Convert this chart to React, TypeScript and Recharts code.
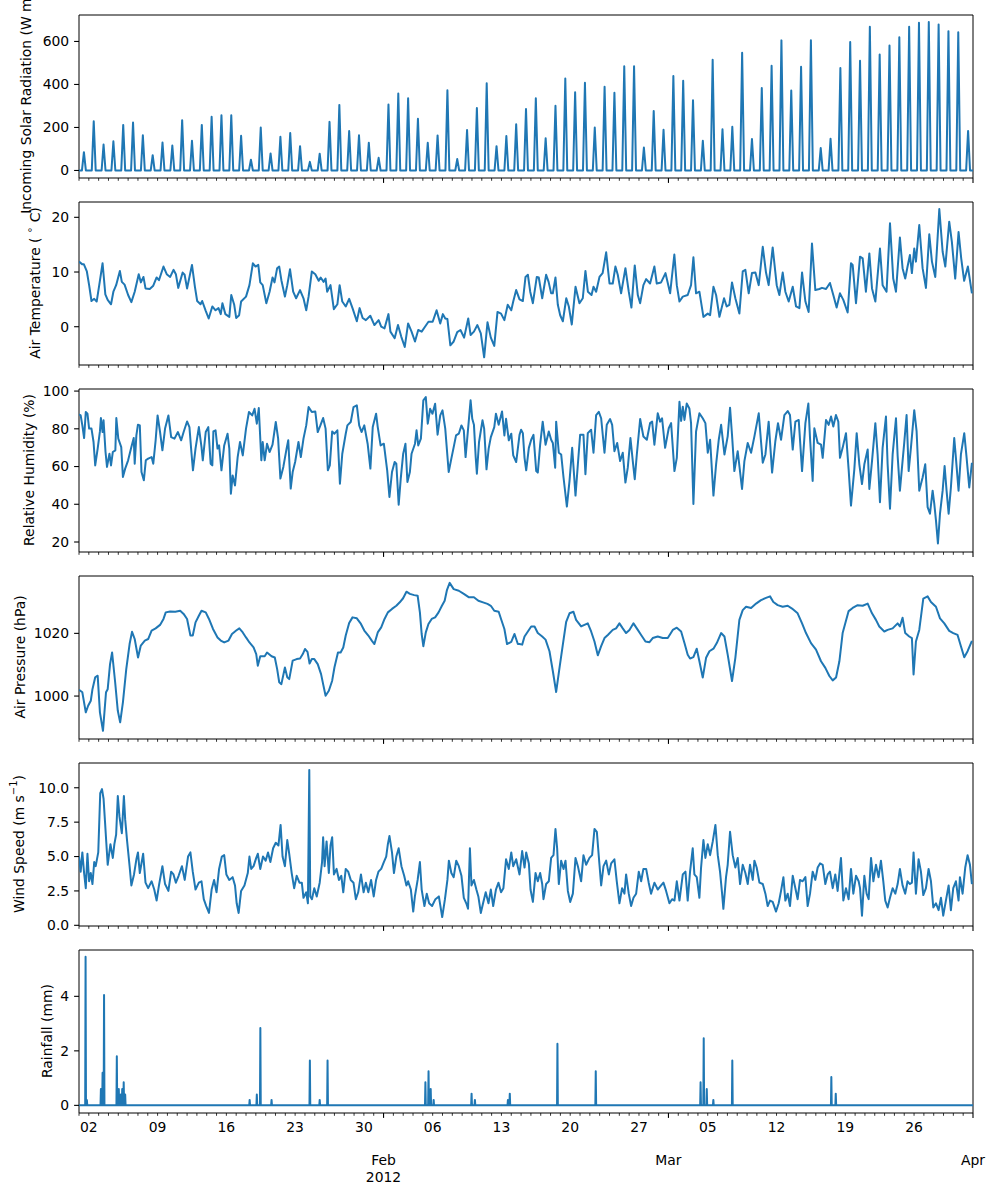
import React from 'react';
import { LineChart, Line, XAxis, YAxis, ReferenceArea } from 'recharts';

type Pt = [number, number];

// x values are days since 2012-01-01 00:00

// daily noon peak of incoming solar radiation (W m-2), Jan 1 .. Mar 31
const SOLAR_PEAKS = [
  85, 229, 121, 136, 212, 223, 164, 71, 130, 116, 234, 138, 212, 250, 257, 257, 161, 50, 200, 79,
  157, 174, 113, 40, 78, 226, 305, 183, 164, 129, 59, 307, 358, 336, 240, 129, 163, 373, 53, 188,
  290, 406, 113, 160, 215, 286, 336, 150, 301, 428, 364, 408, 200, 389, 361, 485, 485, 107, 277, 189,
  439, 417, 327, 138, 515, 192, 203, 547, 146, 383, 487, 605, 372, 482, 606, 104, 147, 477, 597, 510,
  668, 539, 581, 620, 668, 687, 690, 679, 648, 643, 184,
];

// air temperature (deg C)
const TEMP: Pt[] = [
  [0, 11.9], [0.34, 11.4], [0.5, 11.4], [0.8, 10.1], [1.03, 7.6], [1.27, 4.7], [1.55, 5.1], [1.8, 4.6],
  [2.06, 7.6], [2.4, 11.6], [2.68, 5.9], [2.92, 4.9], [3.26, 4.1], [3.5, 6.4], [3.78, 7.6], [4.16, 10.2],
  [4.36, 8.2], [4.64, 7.7], [5, 5.8], [5.33, 4.5], [5.67, 6.4], [6.08, 9.6], [6.3, 8.1], [6.56, 9.1],
  [6.77, 7.0], [7.2, 6.9], [7.56, 7.5], [7.9, 9.0], [8.14, 8.5], [8.6, 11.0], [8.93, 9.6], [9.28, 9.1],
  [9.62, 10.4], [9.86, 9.6], [10.1, 7.1], [10.55, 9.9], [10.75, 9.5], [11, 7.0], [11.5, 11.3], [11.8, 7.3],
  [12.03, 4.7], [12.37, 4.1], [12.54, 4.7], [12.9, 2.9], [13.2, 1.5], [13.57, 3.7], [13.9, 3.0], [14.2, 3.4],
  [14.43, 2.3], [14.6, 4.3], [14.9, 2.3], [15.3, 1.8], [15.5, 5.8], [15.8, 4.0], [16, 1.6], [16.3, 2.1],
  [16.5, 4.6], [17, 5.5], [17.35, 7.6], [17.7, 11.6], [17.97, 11.0], [18.25, 11.3], [18.45, 8.1], [18.7, 7.6],
  [19.07, 4.3], [19.4, 6.4], [19.7, 9.0], [19.9, 8.1], [20.17, 10.7], [20.38, 11.0], [20.6, 8.5], [20.96, 5.5],
  [21.2, 7.6], [21.48, 10.5], [21.8, 6.4], [22.1, 5.2], [22.5, 6.7], [22.85, 5.2], [23.13, 3.0], [23.37, 5.5],
  [23.7, 10.1], [24.05, 9.6], [24.4, 8.4], [24.6, 9.0], [24.9, 8.2], [25.1, 8.8], [25.26, 6.4], [25.6, 7.6],
  [25.94, 3.2], [26.3, 4.1], [26.53, 7.6], [26.8, 4.6], [27.15, 3.7], [27.5, 5.1], [27.84, 3.4], [28.28, 1.0],
  [28.56, 3.4], [28.87, 1.6], [29.2, 1.2], [29.65, 2.0], [30.07, 0.3], [30.5, 1.2], [30.76, 0.0], [31.1, -0.3],
  [31.5, 2.3], [31.7, -0.9], [32.13, -2.1], [32.47, 0.3], [32.8, -1.8], [33.16, -3.7], [33.5, 0.6], [33.85, -0.9],
  [34.2, -2.7], [34.53, -0.6], [34.88, -0.9], [35.22, 0.0], [35.57, 0.9], [36, 0.9], [36.4, 3.0], [36.77, 0.6],
  [37.04, 2.3], [37.28, 1.5], [37.5, 1.4], [37.8, -3.4], [38.14, -2.7], [38.5, -1.0], [38.83, -0.6], [39.2, -2.0],
  [39.62, 1.5], [39.86, -1.5], [40.2, -0.9], [40.55, 0.3], [40.9, -1.2], [41.24, -5.6], [41.58, 0.8], [41.92, -2.0],
  [42.27, -3.5], [42.6, 2.7], [42.96, 2.4], [43.3, 1.2], [43.64, 4.0], [44, 3.0], [44.2, 4.6], [44.5, 6.7],
  [44.84, 5.0], [45.18, 4.7], [45.45, 9.1], [45.69, 9.5], [45.93, 6.4], [46.2, 4.3], [46.6, 9.1], [46.8, 9.0],
  [47.15, 5.2], [47.55, 9.5], [47.8, 8.2], [48.06, 6.1], [48.23, 6.1], [48.5, 9.0], [48.74, 4.0], [48.98, 2.1],
  [49.25, 1.0], [49.6, 5.2], [49.86, 3.7], [50.16, 0.4], [50.54, 7.3], [50.94, 4.3], [51.28, 5.2], [51.55, 10.2],
  [51.8, 6.4], [52.17, 5.8], [52.37, 7.3], [52.64, 6.4], [52.98, 9.1], [53.3, 9.8], [53.66, 13.6], [54, 7.9],
  [54.33, 7.9], [54.6, 11.0], [54.84, 9.5], [55.18, 6.1], [55.62, 10.7], [55.96, 6.4], [56.23, 3.5], [56.57, 11.2],
  [56.88, 5.8], [57.12, 4.3], [57.45, 7.6], [57.73, 8.7], [58.13, 7.9], [58.57, 11.0], [58.81, 7.9], [59.25, 8.1],
  [59.7, 9.8], [60.17, 6.1], [60.6, 13.2], [60.85, 7.6], [61.12, 4.6], [61.46, 5.5], [61.96, 5.8], [62.3, 7.6],
  [62.54, 12.7], [62.81, 6.1], [63.15, 6.4], [63.56, 1.8], [64, 2.4], [64.24, 2.1], [64.58, 7.3], [64.85, 5.8],
  [65.19, 1.8], [65.66, 5.2], [65.93, 3.7], [66.2, 4.0], [66.47, 8.1], [66.81, 5.2], [67.22, 2.4], [67.56, 10.1],
  [67.83, 10.4], [68.17, 6.1], [68.5, 9.8], [68.85, 9.9], [69.19, 7.6], [69.6, 14.6], [69.93, 9.9], [70.2, 7.6],
  [70.61, 14.5], [71.02, 7.6], [71.29, 5.8], [71.63, 9.9], [71.9, 6.4], [72.24, 4.6], [72.65, 7.3], [72.99, 3.7],
  [73.33, 3.4], [73.6, 9.9], [73.94, 4.6], [74.27, 2.7], [74.61, 15.2], [74.95, 6.7], [75.36, 6.9], [75.63, 7.1],
  [76.04, 6.9], [76.44, 8.0], [76.78, 5.8], [77.12, 3.5], [77.46, 6.1], [77.8, 4.9], [78.24, 2.6], [78.58, 11.6],
  [78.75, 11.3], [79.09, 4.3], [79.5, 12.8], [79.77, 12.5], [80.1, 6.4], [80.45, 13.4], [80.72, 7.0], [81.06, 4.6],
  [81.53, 14.3], [81.8, 7.6], [82.2, 6.4], [82.55, 18.9], [82.88, 8.8], [83.16, 6.4], [83.56, 16.3], [83.83, 10.7],
  [84.1, 8.8], [84.34, 11.0], [84.58, 13.1], [84.78, 9.8], [85.02, 14.3], [85.19, 11.9], [85.53, 18.6], [85.87, 10.7],
  [86.21, 7.1], [86.55, 16.9], [86.82, 11.9], [87.16, 9.1], [87.57, 21.5], [87.91, 13.7], [88.18, 11.0], [88.58, 19.2],
  [88.85, 15.5], [89.19, 8.8], [89.53, 17.3], [89.8, 12.5], [90.1, 8.4], [90.48, 11.0], [90.89, 6.1],
];

// relative humidity (%)
const HUMIDITY: Pt[] = [
  [0, 87.6], [0.17, 87.1], [0.34, 81.8], [0.52, 75.1], [0.69, 88.9], [0.86, 88.0], [1.03, 80.1], [1.27, 80.1],
  [1.48, 73.0], [1.65, 60.6], [1.9, 69.5], [2.13, 78.6], [2.23, 85.7], [2.4, 78.3], [2.5, 84.5], [2.7, 67.7],
  [2.85, 59.8], [3.1, 66.8], [3.26, 60.6], [3.44, 67.7], [3.7, 68.6], [3.8, 85.7], [4.0, 74.8], [4.3, 70.3],
  [4.47, 54.5], [4.7, 58.9], [5, 63.3], [5.33, 70.3], [5.57, 75.1], [5.67, 61.5], [5.84, 76.5], [6.0, 82.2],
  [6.19, 81.8], [6.36, 57.1], [6.6, 52.7], [6.8, 63.3], [7.04, 64.2], [7.39, 65.0], [7.56, 61.5], [7.8, 73.9],
  [8.0, 87.1], [8.25, 78.3], [8.49, 68.6], [8.76, 80.1], [9.1, 87.1], [9.38, 75.6], [9.72, 74.8], [10.07, 78.3],
  [10.4, 73.9], [10.65, 78.3], [11, 83.9], [11.24, 80.9], [11.44, 67.7], [11.6, 58.0], [11.86, 69.5], [12.2, 80.9],
  [12.47, 70.3], [12.6, 63.3], [12.9, 78.3], [13.16, 80.9], [13.4, 61.5], [13.57, 60.6], [13.68, 78.6], [13.9, 79.2],
  [14.1, 69.5], [14.26, 71.2], [14.5, 58.0], [14.78, 71.2], [15.12, 77.4], [15.3, 69.5], [15.46, 45.6], [15.64, 55.3],
  [15.88, 50.0], [16.15, 65.0], [16.39, 73.0], [16.67, 65.9], [17.0, 80.1], [17.3, 88.9], [17.63, 87.1], [17.87, 90.6],
  [18.1, 82.7], [18.3, 91.0], [18.56, 63.3], [18.7, 73.0], [18.9, 63.3], [19.14, 72.1], [19.4, 67.7], [19.7, 71.6],
  [20.03, 83.6], [20.27, 74.8], [20.5, 53.6], [20.8, 59.8], [21.13, 69.5], [21.3, 73.9], [21.55, 48.3], [21.75, 57.1],
  [22, 62.4], [22.34, 73.0], [22.58, 65.0], [22.85, 74.8], [23.13, 81.8], [23.37, 91.5], [23.7, 88.9], [24.05, 89.2],
  [24.3, 78.3], [24.57, 81.8], [24.85, 85.7], [25.1, 80.1], [25.33, 58.0], [25.53, 60.6], [25.77, 78.6], [26.0, 77.4],
  [26.3, 79.2], [26.56, 50.9], [26.8, 66.8], [27.15, 77.4], [27.32, 81.8], [27.66, 83.6], [27.94, 91.5], [28.28, 92.4],
  [28.52, 81.8], [28.76, 78.3], [29.04, 81.8], [29.38, 72.1], [29.66, 58.9], [29.9, 80.9], [30.24, 88.0], [30.41, 80.9],
  [30.7, 71.2], [31.03, 72.1], [31.37, 58.0], [31.6, 43.9], [31.86, 57.1], [32.13, 62.4], [32.3, 61.5], [32.54, 39.8],
  [32.75, 53.6], [33.0, 66.8], [33.23, 72.1], [33.43, 51.8], [33.68, 57.1], [33.85, 66.8], [34.2, 72.1], [34.36, 79.2],
  [34.53, 71.2], [34.8, 74.8], [35.05, 95.1], [35.3, 96.8], [35.5, 82.7], [35.74, 90.6], [35.98, 88.0], [36.25, 93.3],
  [36.5, 76.9], [36.77, 87.1], [37.0, 89.8], [37.28, 80.1], [37.63, 57.1], [37.9, 64.2], [38.14, 70.3], [38.38, 76.5],
  [38.66, 77.4], [38.93, 81.8], [39.17, 79.2], [39.35, 65.0], [39.62, 80.9], [39.86, 95.1], [40.03, 85.3], [40.2, 82.2],
  [40.38, 65.0], [40.5, 56.2], [40.72, 73.0], [41.07, 84.5], [41.24, 80.1], [41.48, 58.5], [41.7, 69.5], [41.92, 75.6],
  [42.27, 80.9], [42.44, 88.0], [42.72, 82.2], [43.06, 89.2], [43.3, 76.5], [43.47, 85.3], [43.75, 73.9], [44.0, 77.4],
  [44.2, 65.9], [44.5, 62.4], [44.84, 76.8], [45.0, 79.5], [45.18, 77.7], [45.35, 64.6], [45.52, 58.0], [45.79, 69.9],
  [46.03, 74.2], [46.26, 76.8], [46.54, 57.6], [46.7, 56.8], [46.94, 71.6], [47.2, 83.8], [47.49, 71.6], [47.82, 78.6],
  [48.06, 74.2], [48.23, 72.5], [48.47, 59.4], [48.57, 83.8], [48.84, 67.3], [49.08, 66.4], [49.32, 54.2], [49.66, 38.8],
  [49.93, 52.4], [50.2, 69.9], [50.54, 44.6], [50.78, 61.2], [51.01, 76.8], [51.35, 76.8], [51.55, 55.9], [51.79, 77.7],
  [52.13, 79.5], [52.37, 67.3], [52.64, 87.3], [52.91, 89.0], [53.15, 85.6], [53.49, 67.3], [53.72, 82.1], [54.06, 85.2],
  [54.27, 82.1], [54.5, 68.1], [54.78, 72.5], [55.08, 62.9], [55.35, 67.3], [55.62, 51.5], [55.86, 59.4], [56.13, 75.1],
  [56.37, 62.9], [56.57, 53.3], [56.78, 66.4], [57.12, 85.2], [57.45, 75.9], [57.8, 74.2], [58.13, 83.0], [58.34, 83.8],
  [58.57, 71.6], [58.91, 88.2], [59.15, 83.8], [59.35, 85.6], [59.66, 69.9], [60.03, 80.3], [60.27, 83.0], [60.61, 57.6],
  [60.85, 64.6], [61.12, 94.3], [61.29, 84.2], [61.46, 91.7], [61.63, 84.7], [61.86, 93.4], [62.13, 90.8], [62.3, 83.0],
  [62.54, 40.2], [62.81, 78.6], [63.15, 88.2], [63.49, 85.6], [63.76, 83.0], [64.0, 67.3], [64.24, 74.2], [64.58, 44.6],
  [64.85, 61.2], [65.12, 74.2], [65.36, 82.1], [65.7, 66.4], [66.03, 76.0], [66.27, 91.2], [66.47, 76.8], [66.71, 57.6],
  [67.05, 68.1], [67.49, 48.1], [67.73, 62.9], [68.07, 72.5], [68.41, 67.3], [68.75, 76.0], [69.19, 88.2], [69.6, 62.0],
  [69.87, 66.4], [70.2, 83.8], [70.55, 56.8], [70.88, 73.4], [71.15, 83.0], [71.46, 74.2], [71.8, 87.3], [72.14, 89.4],
  [72.37, 87.3], [72.65, 69.0], [72.92, 83.8], [73.26, 84.7], [73.6, 57.6], [73.94, 83.0], [74.24, 93.4], [74.41, 75.1],
  [74.68, 52.4], [74.85, 80.3], [75.19, 72.5], [75.53, 71.6], [75.7, 64.6], [76.04, 84.7], [76.31, 82.1], [76.55, 86.5],
  [76.78, 81.2], [77.05, 87.3], [77.29, 83.8], [77.46, 64.6], [77.73, 69.9], [78.07, 77.7], [78.34, 58.5], [78.58, 39.3],
  [78.92, 58.5], [79.16, 77.7], [79.43, 61.2], [79.7, 50.7], [79.94, 61.2], [80.28, 69.0], [80.45, 48.1], [80.72, 62.9],
  [81.06, 83.0], [81.29, 66.4], [81.53, 41.1], [81.8, 69.9], [82.14, 86.5], [82.31, 61.2], [82.55, 37.6], [82.82, 66.4],
  [83.16, 85.6], [83.33, 65.5], [83.56, 47.2], [83.83, 62.9], [84.0, 72.5], [84.24, 87.3], [84.45, 57.6], [84.68, 69.9],
  [85.02, 89.9], [85.26, 78.6], [85.53, 47.2], [85.87, 54.2], [86.14, 61.2], [86.38, 38.5], [86.62, 35.0], [86.89, 47.2],
  [87.06, 40.2], [87.23, 31.5], [87.43, 19.2], [87.64, 35.0], [87.91, 47.2], [88.11, 60.3], [88.31, 47.2], [88.52, 35.0],
  [88.75, 48.9], [89.09, 75.1], [89.26, 64.6], [89.53, 47.2], [89.77, 66.4], [90.11, 77.7], [90.35, 64.6], [90.62, 48.9],
  [90.89, 62.0],
];

// air pressure (hPa)
const PRESSURE: Pt[] = [
  [0, 1002.0], [0.34, 1001.2], [0.69, 994.8], [0.93, 996.9], [1.2, 998.5], [1.37, 1002.2], [1.65, 1006.0], [1.9, 1006.5],
  [2.13, 994.8], [2.44, 988.9], [2.75, 1001.2], [2.92, 1002.2], [3.16, 1010.2], [3.37, 1013.9], [3.68, 1004.4], [3.95, 995.3],
  [4.19, 991.6], [4.47, 998.0], [4.81, 1008.6], [5.15, 1016.6], [5.4, 1020.5], [5.67, 1018.2], [6.01, 1012.3], [6.29, 1016.1],
  [6.7, 1017.7], [7.04, 1018.2], [7.39, 1020.9], [7.8, 1021.6], [8.25, 1022.7], [8.6, 1024.6], [8.83, 1026.7], [9.28, 1027.0],
  [9.8, 1026.9], [10.3, 1027.2], [10.65, 1026.2], [11, 1024.6], [11.34, 1019.3], [11.58, 1019.3], [11.86, 1023.5], [12.2, 1025.6],
  [12.47, 1027.2], [12.9, 1026.7], [13.23, 1024.6], [13.64, 1021.4], [14.1, 1018.7], [14.43, 1017.7], [14.78, 1017.1], [15.22, 1017.7],
  [15.57, 1019.8], [16.0, 1020.9], [16.32, 1021.6], [16.67, 1020.3], [17.0, 1018.7], [17.35, 1017.1], [17.77, 1015.5], [18.04, 1013.4],
  [18.2, 1009.7], [18.45, 1012.7], [18.9, 1012.7], [19.14, 1013.9], [19.6, 1012.7], [19.93, 1012.3], [20.17, 1008.6], [20.38, 1004.4],
  [20.6, 1003.8], [20.96, 1009.1], [21.2, 1006.0], [21.4, 1005.4], [21.75, 1011.3], [22.16, 1011.8], [22.5, 1012.0], [22.78, 1013.4],
  [23.0, 1015.0], [23.26, 1014.1], [23.47, 1010.4], [23.7, 1011.8], [23.95, 1011.8], [24.3, 1010.2], [24.64, 1007.0], [24.85, 1003.8],
  [25.1, 1000.1], [25.43, 1001.7], [25.77, 1004.9], [26.0, 1009.1], [26.36, 1013.9], [26.63, 1013.9], [26.9, 1015.5], [27.15, 1019.3],
  [27.5, 1023.3], [27.84, 1025.1], [28.28, 1024.8], [28.7, 1023.0], [29.04, 1020.9], [29.45, 1019.3], [29.8, 1017.7], [30.07, 1016.6],
  [30.41, 1020.3], [30.76, 1021.9], [31.1, 1024.6], [31.44, 1026.7], [31.86, 1027.8], [32.3, 1028.8], [32.65, 1029.9], [32.99, 1031.2],
  [33.33, 1033.3], [33.68, 1032.6], [34.12, 1032.2], [34.47, 1032.0], [34.7, 1026.7], [34.88, 1019.8], [35.05, 1015.9], [35.3, 1020.3],
  [35.57, 1023.0], [35.9, 1024.6], [36.25, 1025.1], [36.6, 1026.7], [36.94, 1028.8], [37.22, 1030.4], [37.46, 1033.9], [37.73, 1036.1],
  [38.14, 1034.1], [38.66, 1033.6], [39.17, 1032.6], [39.7, 1031.5], [40.2, 1031.5], [40.65, 1030.4], [41.13, 1029.9], [41.58, 1029.4],
  [41.92, 1028.8], [42.27, 1027.2], [42.72, 1026.9], [42.96, 1024.6], [43.3, 1021.4], [43.57, 1016.6], [44.0, 1017.3], [44.33, 1019.8],
  [44.67, 1016.6], [44.84, 1016.6], [45.11, 1016.4], [45.35, 1019.0], [45.69, 1020.6], [46.03, 1022.2], [46.37, 1022.2], [46.7, 1020.1],
  [47.15, 1019.0], [47.49, 1018.0], [47.89, 1014.3], [48.23, 1008.0], [48.57, 1001.3], [48.91, 1009.0], [49.25, 1016.4], [49.59, 1023.7],
  [49.93, 1026.4], [50.33, 1026.9], [50.6, 1024.3], [51.11, 1022.2], [51.45, 1022.7], [51.79, 1023.2], [52.13, 1020.6], [52.47, 1017.4],
  [52.81, 1013.0], [53.15, 1015.9], [53.49, 1018.5], [53.83, 1019.5], [54.33, 1021.1], [54.67, 1021.6], [55.01, 1023.2], [55.35, 1021.6],
  [55.69, 1020.1], [56.03, 1021.1], [56.44, 1023.2], [56.88, 1021.1], [57.22, 1019.5], [57.66, 1017.4], [58.07, 1017.2], [58.4, 1018.5],
  [58.91, 1019.0], [59.42, 1018.5], [59.93, 1018.5], [60.44, 1021.1], [60.85, 1021.8], [61.29, 1020.6], [61.63, 1016.9], [61.96, 1013.2],
  [62.2, 1012.0], [62.54, 1012.4], [62.88, 1015.1], [63.15, 1011.1], [63.49, 1005.9], [63.83, 1012.2], [64.17, 1014.3], [64.58, 1015.1],
  [64.92, 1016.9], [65.36, 1020.1], [65.7, 1019.0], [66.03, 1013.2], [66.47, 1004.8], [66.81, 1012.2], [67.22, 1024.3], [67.56, 1027.4],
  [67.9, 1028.5], [68.41, 1028.1], [68.92, 1029.5], [69.42, 1030.6], [69.93, 1031.3], [70.34, 1031.8], [70.68, 1030.0], [71.12, 1029.0],
  [71.63, 1028.5], [72.14, 1028.8], [72.58, 1027.9], [73.15, 1026.4], [73.6, 1023.2], [74.0, 1020.1], [74.51, 1016.9], [75.02, 1014.8],
  [75.53, 1011.1], [75.97, 1009.0], [76.38, 1006.4], [76.72, 1005.0], [77.06, 1005.9], [77.4, 1011.1], [77.73, 1020.1], [78.0, 1023.2],
  [78.34, 1027.1], [78.75, 1028.1], [79.26, 1029.0], [79.77, 1028.8], [80.28, 1029.5], [80.72, 1026.4], [81.12, 1024.3], [81.46, 1022.2],
  [81.97, 1020.6], [82.31, 1021.1], [82.82, 1021.6], [83.33, 1023.2], [83.56, 1022.2], [83.83, 1025.0], [84.1, 1020.1], [84.51, 1019.0],
  [84.78, 1018.5], [84.95, 1006.9], [85.19, 1017.4], [85.53, 1021.1], [85.94, 1031.1], [86.38, 1031.8], [86.72, 1030.0], [87.23, 1028.5],
  [87.64, 1024.8], [88.08, 1023.2], [88.58, 1020.8], [88.99, 1020.1], [89.43, 1019.5], [89.77, 1015.9], [90.11, 1012.4], [90.45, 1014.3],
  [90.89, 1017.6],
];

// wind speed (m s-1)
const WIND: Pt[] = [
  [0, 5.0], [0.17, 3.9], [0.34, 5.3], [0.52, 3.8], [0.69, 2.7], [0.86, 5.2], [1.03, 3.2], [1.2, 3.8],
  [1.37, 3.0], [1.55, 4.6], [1.7, 4.3], [1.96, 5.3], [2.16, 9.6], [2.34, 9.9], [2.5, 9.2], [2.65, 7.5],
  [2.78, 6.0], [2.92, 4.4], [3.2, 5.9], [3.44, 4.9], [3.6, 5.9], [3.78, 6.6], [3.95, 9.4], [4.12, 7.9],
  [4.36, 6.7], [4.57, 9.4], [4.7, 7.7], [4.9, 6.1], [5.15, 4.3], [5.33, 2.9], [5.6, 3.7], [5.84, 4.8],
  [6.0, 5.3], [6.19, 3.8], [6.53, 5.2], [6.77, 3.1], [7.04, 2.7], [7.39, 3.2], [7.66, 2.6], [7.9, 1.8],
  [8.14, 2.9], [8.49, 4.3], [8.76, 3.0], [9.1, 2.5], [9.38, 3.9], [9.62, 3.7], [9.86, 3.1], [10.14, 3.6],
  [10.48, 4.3], [10.76, 3.3], [11.1, 5.0], [11.34, 5.3], [11.58, 3.9], [11.86, 2.6], [12.2, 3.1], [12.47, 3.2],
  [12.7, 1.9], [12.95, 1.4], [13.23, 0.9], [13.5, 2.6], [13.75, 3.3], [14.0, 2.4], [14.26, 4.1], [14.54, 5.0],
  [14.78, 5.1], [15.0, 3.7], [15.3, 3.3], [15.64, 3.5], [15.88, 2.9], [16.05, 1.6], [16.25, 0.9], [16.5, 2.5],
  [16.84, 2.9], [17.18, 3.8], [17.35, 5.0], [17.53, 4.1], [17.77, 4.3], [18.04, 4.9], [18.2, 5.2], [18.45, 4.1],
  [18.73, 5.0], [19.0, 4.7], [19.24, 5.3], [19.48, 4.6], [19.76, 5.6], [20.03, 6.0], [20.3, 5.8], [20.52, 7.3],
  [20.72, 5.0], [20.96, 4.3], [21.2, 6.2], [21.4, 5.2], [21.65, 3.8], [21.9, 2.7], [22.16, 3.6], [22.44, 3.1],
  [22.68, 3.1], [22.85, 2.0], [23.13, 2.4], [23.3, 1.6], [23.44, 11.3], [23.54, 2.1], [23.71, 1.9], [23.95, 2.7],
  [24.2, 2.1], [24.5, 3.1], [24.74, 4.6], [24.85, 6.4], [25.0, 4.3], [25.2, 6.1], [25.43, 3.8], [25.6, 5.8],
  [25.77, 6.4], [25.95, 3.7], [26.22, 4.1], [26.46, 3.3], [26.7, 3.6], [26.9, 2.4], [27.15, 4.1], [27.4, 3.9],
  [27.66, 3.3], [27.94, 3.1], [28.18, 1.9], [28.42, 2.4], [28.7, 3.7], [28.97, 2.4], [29.2, 3.1], [29.45, 2.4],
  [29.73, 3.3], [30.0, 2.1], [30.24, 3.3], [30.48, 3.9], [30.76, 4.1], [31.03, 4.6], [31.27, 5.0], [31.44, 5.9],
  [31.6, 6.5], [31.86, 5.3], [32.06, 3.8], [32.3, 5.0], [32.54, 5.6], [32.82, 4.3], [33.1, 3.6], [33.33, 2.9],
  [33.5, 3.2], [33.78, 2.6], [34.02, 1.0], [34.19, 2.1], [34.47, 3.3], [34.7, 4.6], [34.88, 2.6], [35.16, 1.4],
  [35.4, 2.3], [35.64, 1.6], [35.94, 1.4], [36.28, 1.9], [36.63, 2.1], [36.97, 0.6], [37.25, 1.9], [37.5, 3.3],
  [37.65, 4.7], [37.9, 3.8], [38.14, 3.5], [38.4, 4.7], [38.66, 4.3], [38.93, 3.6], [39.17, 2.0], [39.42, 1.6],
  [39.6, 1.2], [39.79, 5.6], [39.95, 2.9], [40.2, 3.3], [40.45, 2.6], [40.65, 2.1], [40.9, 0.9], [41.13, 1.6],
  [41.4, 2.4], [41.68, 1.6], [41.92, 2.6], [42.16, 1.4], [42.44, 2.6], [42.7, 3.1], [42.96, 2.4], [43.2, 2.7],
  [43.47, 4.8], [43.75, 4.1], [44.0, 5.3], [44.2, 4.3], [44.5, 4.8], [44.84, 3.7], [45.11, 5.4], [45.35, 4.2],
  [45.52, 5.3], [45.79, 4.5], [45.96, 2.6], [46.2, 1.7], [46.47, 3.8], [46.7, 3.2], [46.94, 3.8], [47.15, 3.0],
  [47.28, 1.9], [47.55, 3.0], [47.82, 3.2], [48.06, 4.9], [48.3, 5.1], [48.5, 7.0], [48.67, 5.6], [48.84, 3.0],
  [49.08, 4.7], [49.32, 4.1], [49.52, 4.7], [49.76, 2.5], [50.0, 1.7], [50.27, 2.3], [50.54, 4.9], [50.78, 4.3],
  [51.11, 3.2], [51.35, 5.1], [51.62, 4.4], [51.96, 4.9], [52.23, 5.1], [52.47, 7.0], [52.71, 6.8], [52.98, 4.4],
  [53.15, 2.9], [53.39, 4.3], [53.66, 4.7], [53.93, 3.7], [54.17, 4.5], [54.5, 4.8], [54.74, 3.2], [55.01, 1.6],
  [55.28, 2.7], [55.52, 2.3], [55.69, 3.7], [55.96, 2.3], [56.2, 1.4], [56.44, 2.0], [56.71, 2.3], [56.98, 3.9],
  [57.22, 3.2], [57.45, 4.1], [57.73, 4.1], [57.99, 3.1], [58.23, 2.3], [58.57, 3.1], [58.91, 2.6], [59.25, 2.9],
  [59.49, 3.1], [59.76, 2.5], [60.1, 1.6], [60.37, 1.9], [60.61, 1.8], [60.85, 3.2], [61.12, 1.8], [61.46, 3.7],
  [61.73, 3.9], [61.96, 1.8], [62.2, 3.9], [62.47, 5.6], [62.64, 3.7], [62.88, 3.5], [63.15, 2.0], [63.32, 4.2],
  [63.56, 6.2], [63.76, 4.9], [64.0, 5.9], [64.24, 5.1], [64.51, 6.1], [64.78, 7.3], [65.02, 5.1], [65.25, 3.9],
  [65.46, 2.3], [65.59, 1.2], [65.86, 3.5], [66.03, 4.4], [66.27, 6.8], [66.54, 5.1], [66.81, 4.2], [67.05, 4.9],
  [67.29, 3.0], [67.56, 4.4], [67.83, 3.8], [68.07, 3.0], [68.3, 4.4], [68.58, 3.3], [68.75, 4.7], [68.98, 4.2],
  [69.26, 3.1], [69.6, 3.0], [69.87, 2.3], [70.1, 1.4], [70.34, 1.8], [70.61, 1.7], [70.95, 1.0], [71.22, 1.6],
  [71.46, 2.5], [71.7, 3.5], [71.9, 1.8], [72.14, 2.3], [72.37, 1.4], [72.65, 3.6], [72.92, 2.7], [73.15, 1.9],
  [73.39, 3.3], [73.66, 3.2], [73.94, 3.5], [74.17, 1.4], [74.41, 2.3], [74.68, 3.9], [74.95, 3.3], [75.19, 4.2],
  [75.43, 4.5], [75.7, 4.4], [75.97, 3.0], [76.21, 3.7], [76.44, 3.9], [76.72, 2.7], [76.98, 3.7], [77.22, 2.5],
  [77.56, 4.9], [77.8, 1.8], [78.07, 2.7], [78.34, 1.9], [78.58, 4.1], [78.82, 2.3], [79.09, 3.6], [79.36, 3.2],
  [79.5, 2.7], [79.7, 0.7], [79.94, 3.6], [80.17, 2.3], [80.38, 1.9], [80.62, 4.9], [80.86, 3.2], [81.12, 4.4],
  [81.39, 3.5], [81.63, 4.7], [81.87, 3.2], [82.07, 1.8], [82.31, 1.3], [82.55, 2.0], [82.82, 2.7], [83.09, 2.3],
  [83.33, 3.0], [83.56, 4.1], [83.83, 2.9], [84.1, 2.3], [84.34, 3.2], [84.58, 3.0], [84.78, 3.1], [84.95, 5.3],
  [85.19, 2.3], [85.46, 4.8], [85.7, 3.9], [85.94, 2.2], [86.21, 2.7], [86.48, 4.1], [86.72, 3.2], [86.96, 1.3],
  [87.23, 1.6], [87.5, 1.1], [87.74, 2.0], [87.97, 0.7], [88.24, 1.8], [88.52, 2.9], [88.75, 1.1], [88.99, 2.7],
  [89.26, 3.2], [89.53, 1.8], [89.67, 3.5], [89.94, 2.3], [90.21, 4.2], [90.45, 5.1], [90.69, 4.4], [90.89, 3.0],
];

// hourly rainfall events (mm), everything else is 0
const RAIN: Pt[] = [
  [0.67, 5.45], [0.8, 0.2], [2.23, 0.6], [2.4, 1.2], [2.55, 4.05], [3.85, 1.8], [4.05, 0.6], [4.25, 0.4],
  [4.4, 0.6], [4.55, 0.85], [4.7, 0.4], [17.37, 0.2], [18.1, 0.4], [18.46, 2.84], [19.6, 0.2], [23.5, 1.65],
  [24.5, 0.2], [25.3, 1.65], [35.26, 0.85], [35.58, 1.25], [35.8, 0.6], [36.1, 0.2], [39.96, 0.43], [40.3, 0.2],
  [43.66, 0.2], [43.85, 0.43], [48.7, 2.26], [52.6, 1.25], [63.27, 0.85], [63.59, 2.46], [63.9, 0.6], [64.57, 0.2],
  [66.5, 1.65], [76.58, 1.04], [77.03, 0.43],
];

const DAY_TICKS = Array.from({ length: 92 }, (_, i) => i);
const WEEK_TICKS = [1, 8, 15, 22, 29, 36, 43, 50, 57, 64, 71, 78, 85];
const WEEK_LABELS = ['02', '09', '16', '23', '30', '06', '13', '20', '27', '05', '12', '19', '26'];
const MONTH_TICKS = [31, 60, 91];
const MONTH_LABELS = [['Feb', '2012'], ['Mar'], ['Apr']];

const FONT = '"DejaVu Sans", sans-serif';
const FS = 13.9;
const BLUE = '#1f77b4';

const toRows = (pts: Pt[]) => pts.map(([t, v]) => ({ t, v }));

const solarRows = SOLAR_PEAKS.flatMap((p, d) => [
  { t: d, v: 0 },
  { t: d + 0.3, v: 0 },
  { t: d + 0.5, v: p },
  { t: d + 0.7, v: 0 },
]).concat([{ t: 91, v: 0 }]);

const rainRows = [{ t: 0, v: 0 }]
  .concat(RAIN.flatMap(([t, v]) => [
    { t: t - 0.04, v: 0 },
    { t, v },
    { t: t + 0.04, v: 0 },
  ]))
  .concat([{ t: 91, v: 0 }]);

function DateTick(props: any) {
  const { x, y, payload, showLabels } = props;
  const d = payload.value;
  const mi = MONTH_TICKS.indexOf(d);
  const wi = WEEK_TICKS.indexOf(d);
  const major = mi >= 0;
  return (
    <g>
      <line x1={x} x2={x} y1={y} y2={y + (major ? 4.9 : 2.8)} stroke="#000" strokeWidth={major ? 1.1 : 0.8} />
      {showLabels && wi >= 0 && (
        <text x={x} y={y + 19} textAnchor="middle" fontSize={FS} fontFamily={FONT} fill="#000">
          {WEEK_LABELS[wi]}
        </text>
      )}
      {showLabels && major &&
        MONTH_LABELS[mi].map((s, k) => (
          <text key={s} x={x} y={y + 52 + k * 16.5} textAnchor="middle" fontSize={FS} fontFamily={FONT} fill="#000">
            {s}
          </text>
        ))}
    </g>
  );
}

interface PanelProps {
  index: number;
  rows: { t: number; v: number }[];
  domain: [number, number];
  ticks: number[];
  fmt?: (v: number) => string;
  last?: boolean;
}

function Panel({ index, rows, domain, ticks, fmt, last }: PanelProps) {
  return (
    <div style={{ position: 'absolute', left: 0, top: index * 187 }}>
      <LineChart
        width={1000}
        height={last ? 265 : 187}
        data={rows}
        margin={{ top: 15, right: 27, bottom: 0, left: 0 }}
      >
        <XAxis
          dataKey="t"
          type="number"
          domain={[0, 91]}
          ticks={DAY_TICKS}
          interval={0}
          height={last ? 87 : 9}
          axisLine={false}
          tickLine={false}
          tickSize={0}
          tickMargin={0}
          tick={<DateTick showLabels={!!last} />}
          allowDataOverflow
        />
        <YAxis
          type="number"
          domain={domain}
          ticks={ticks}
          interval={0}
          width={79}
          axisLine={false}
          stroke="#000"
          tickSize={4.9}
          tickMargin={4.9}
          tickLine={{ stroke: '#000', strokeWidth: 1.1 }}
          tick={{ fill: '#000', fontSize: FS, fontFamily: FONT }}
          tickFormatter={fmt}
          allowDataOverflow
        />
        <Line
          dataKey="v"
          type="linear"
          stroke={BLUE}
          strokeWidth={2}
          strokeLinejoin="round"
          dot={false}
          isAnimationActive={false}
        />
        <ReferenceArea
          x1={0}
          x2={91}
          y1={domain[0]}
          y2={domain[1]}
          fill="none"
          stroke="#000"
          strokeWidth={1}
          ifOverflow="visible"
        />
      </LineChart>
    </div>
  );
}

function YLabel({ cx, cy, children }: { cx: number; cy: number; children: React.ReactNode }) {
  return (
    <div
      style={{
        position: 'absolute',
        left: cx,
        top: cy,
        transform: 'translate(-50%, -50%) rotate(-90deg)',
        whiteSpace: 'nowrap',
        fontFamily: FONT,
        fontSize: FS,
        lineHeight: 1,
        color: '#000',
      }}
    >
      {children}
    </div>
  );
}

const supStyle: React.CSSProperties = { fontSize: 10, verticalAlign: 'top', position: 'relative', top: -4 };

export default function App() {
  return (
    <div style={{ position: 'absolute', left: 0, top: 0, width: 1000, height: 1200, background: '#fff', overflow: 'hidden' }}>
      <Panel index={0} rows={solarRows} domain={[-35, 723]} ticks={[0, 200, 400, 600]} />
      <Panel index={1} rows={toRows(TEMP)} domain={[-7.0, 22.8]} ticks={[0, 10, 20]} />
      <Panel index={2} rows={toRows(HUMIDITY)} domain={[14.7, 101.1]} ticks={[20, 40, 60, 80, 100]} />
      <Panel index={3} rows={toRows(PRESSURE)} domain={[986.3, 1038.3]} ticks={[1000, 1020]} />
      <Panel index={4} rows={toRows(WIND)} domain={[-0.05, 11.8]} ticks={[0, 2.5, 5, 7.5, 10]} fmt={(v) => v.toFixed(1)} />
      <Panel index={5} rows={rainRows} domain={[-0.28, 5.7]} ticks={[0, 2, 4]} last />

      <YLabel cx={27} cy={96}>
        Incoming Solar Radiation (W m<span style={supStyle}>−2</span>)
      </YLabel>
      <YLabel cx={36} cy={283}>
        Air Temperature ( <span style={supStyle}>∘</span> C)
      </YLabel>
      <YLabel cx={30} cy={470}>Relative Humidity (%)</YLabel>
      <YLabel cx={21} cy={657}>Air Pressure (hPa)</YLabel>
      <YLabel cx={20} cy={844}>
        Wind Speed (m s<span style={supStyle}>−1</span>)
      </YLabel>
      <YLabel cx={48} cy={1031}>Rainfall (mm)</YLabel>
    </div>
  );
}
